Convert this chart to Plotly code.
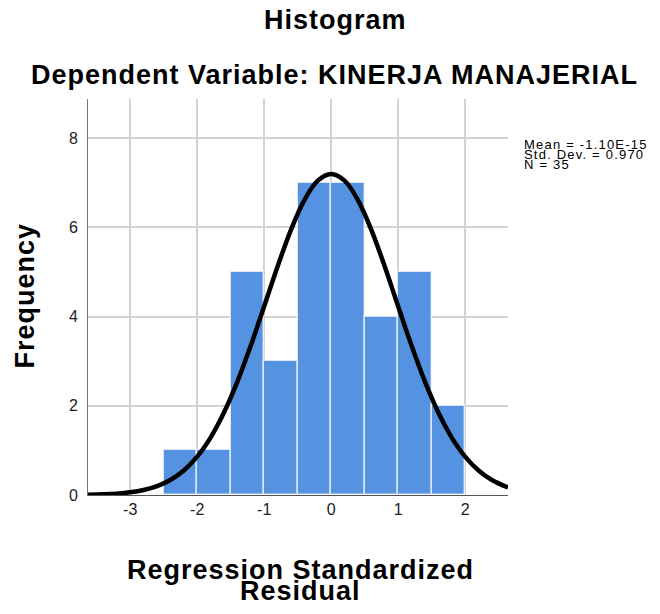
import plotly.graph_objects as go

# histogram bins (width 0.5) and counts
bin_centers = [-2.25, -1.75, -1.25, -0.75, -0.25, 0.25, 0.75, 1.25, 1.75]
counts = [1, 1, 5, 3, 7, 7, 4, 5, 2]
bin_width = 0.5

# fitted normal curve
curve_x = [-3.63, -3.4, -3.2, -3.0, -2.8, -2.6, -2.4, -2.2, -2.0, -1.8, -1.6, -1.4,
           -1.2, -1.0, -0.8, -0.6, -0.4, -0.2, 0.0, 0.2, 0.4, 0.6, 0.8, 1.0,
           1.2, 1.4, 1.6, 1.8, 2.0, 2.2, 2.4, 2.64]
curve_y = [0.007, 0.015, 0.031, 0.060, 0.112, 0.198, 0.337, 0.550, 0.859, 1.287, 1.848, 2.541,
           3.350, 4.232, 5.124, 5.946, 6.613, 7.049, 7.200, 7.049, 6.613, 5.946, 5.124, 4.232,
           3.350, 2.541, 1.848, 1.287, 0.859, 0.550, 0.337, 0.170]

x_ticks = [-3, -2, -1, 0, 1, 2]
x_tick_labels = ["-3", "-2", "-1", "0", "1", "2"]
y_ticks = [0, 2, 4, 6, 8]
y_tick_labels = ["0", "2", "4", "6", "8"]

stats_lines = ["Mean = -1.10E-15", "Std. Dev. = 0.970", "N = 35"]

FONT = "Arial, Liberation Sans, sans-serif"

fig = go.Figure()

fig.add_trace(
    go.Bar(
        x=bin_centers,
        y=counts,
        width=bin_width,
        marker=dict(
            color="#5592e1",
            line=dict(color="rgba(255,255,255,0.7)", width=1.5),
        ),
        hoverinfo="skip",
    )
)

fig.add_trace(
    go.Scatter(
        x=curve_x,
        y=curve_y,
        mode="lines",
        line=dict(color="#000000", width=4.5, shape="spline"),
        hoverinfo="skip",
    )
)


def big(text):
    return f"<span style='letter-spacing:1px'>{text}</span>"


annotations = [
    dict(text=big("<b>Histogram</b>"), x=0.59, y=1.2, font_size=27),
    dict(text=big("<b>Dependent Variable: KINERJA MANAJERIAL</b>"), x=0.587, y=1.06, font_size=27),
    dict(text=big("<b>Frequency</b>"), x=-0.151, y=0.5025, font_size=27, textangle=-90),
    dict(text=big("<b>Regression Standardized</b>"), x=0.505, y=-0.19, font_size=27),
    dict(text=big("<b>Residual</b>"), x=0.505, y=-0.242, font_size=27),
]

for i, line in enumerate(stats_lines):
    annotations.append(
        dict(
            text=f"<span style='letter-spacing:1.2px'>{line}</span>",
            x=1.033,
            y=0.884 - i * 0.0253,
            xanchor="left",
            font_size=13,
        )
    )

for a in annotations:
    a.setdefault("xanchor", "center")
    a.update(
        xref="paper",
        yref="paper",
        yanchor="middle",
        showarrow=False,
        font=dict(family=FONT, color="#000000", size=a.pop("font_size")),
    )

# the page adds an 8px body margin, so the plot area is pulled up/left by 8px
fig.update_layout(
    width=660,
    height=614,
    margin=dict(l=80, r=160, t=91, b=127),
    paper_bgcolor="#ffffff",
    plot_bgcolor="#ffffff",
    showlegend=False,
    bargap=0,
    font=dict(family=FONT, color="#222222", size=16),
    annotations=annotations,
    xaxis=dict(
        range=[-3.63, 2.64],
        tickvals=x_ticks,
        ticktext=x_tick_labels,
        showgrid=True,
        gridcolor="#d3d3d3",
        gridwidth=1.5,
        zeroline=False,
        showline=True,
        linecolor="#555555",
        linewidth=1,
        ticks="",
        tickfont=dict(size=16),
    ),
    yaxis=dict(
        range=[0, 8.88],
        tickvals=y_ticks,
        ticktext=y_tick_labels,
        showgrid=True,
        gridcolor="#d3d3d3",
        gridwidth=1.5,
        zeroline=False,
        showline=True,
        linecolor="#777777",
        linewidth=1,
        ticks="",
        ticklabelstandoff=6,
        tickfont=dict(size=16),
    ),
)

fig.write_html("out.html")
